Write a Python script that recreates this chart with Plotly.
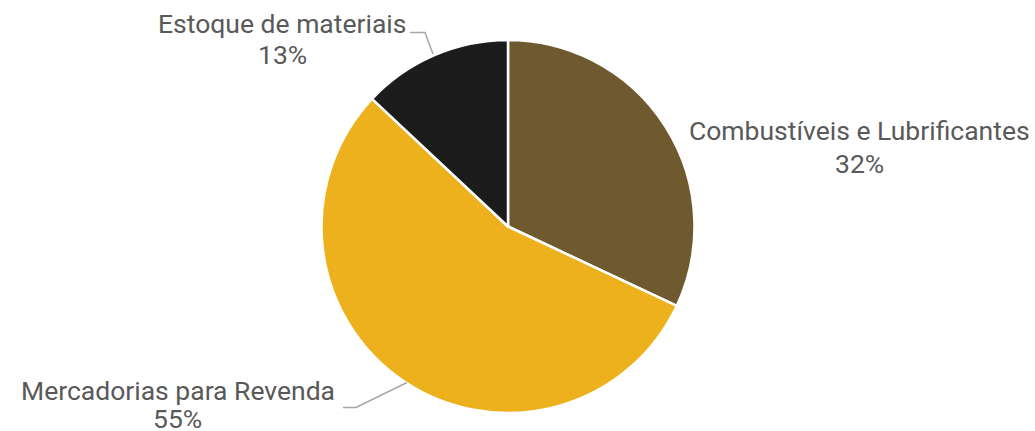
import plotly.graph_objects as go

W, H = 1035, 431

categories = ["Combustíveis e Lubrificantes", "Mercadorias para Revenda", "Estoque de materiais"]
values = [32, 55, 13]
colors = ["#6E5A2E", "#EDB11D", "#1C1C1C"]

# label placement (pixel centers: x, y of name line, y of percent line)
label_pos = [(859, 130.5, 163), (177.5, 390.5, 418.5), (282, 23.5, 54.5)]
# leader lines (pixel points)
leaders = [None,
           [(343, 407.5), (356, 407.5), (407, 382.5)],
           [(410, 32.5), (425, 32.5), (433, 54)]]

cx, cy, r = 508, 226.5, 186.5

fig = go.Figure(go.Pie(
    labels=categories, values=values, sort=False, direction="clockwise", rotation=0,
    marker=dict(colors=colors, line=dict(color="white", width=2.5)),
    textinfo="none", hoverinfo="label+percent", showlegend=False,
    domain=dict(x=[(cx - r) / W, (cx + r) / W], y=[1 - (cy + r) / H, 1 - (cy - r) / H]),
))

total = sum(values)
font = dict(family="Roboto", size=26.5, color="#595959")
for cat, v, (px, py1, py2) in zip(categories, values, label_pos):
    for txt, py in ((cat, py1), (f"{round(v / total * 100)}%", py2)):
        fig.add_annotation(
            x=px / W, y=1 - py / H, xref="paper", yref="paper",
            text=txt, showarrow=False, xanchor="center", yanchor="middle",
            font=font,
        )

for pts in leaders:
    if not pts:
        continue
    path = "M " + " L ".join(f"{x / W},{1 - y / H}" for x, y in pts)
    fig.add_shape(type="path", path=path, xref="paper", yref="paper",
                  line=dict(color="#A6A6A6", width=1.5))

fig.update_layout(
    width=W, height=H, margin=dict(l=0, r=0, t=0, b=0),
    paper_bgcolor="white", plot_bgcolor="white",
)

fig.write_html("out.html", config={"displayModeBar": False},
               post_script="document.body.style.margin='0';document.body.style.overflow='hidden';")
